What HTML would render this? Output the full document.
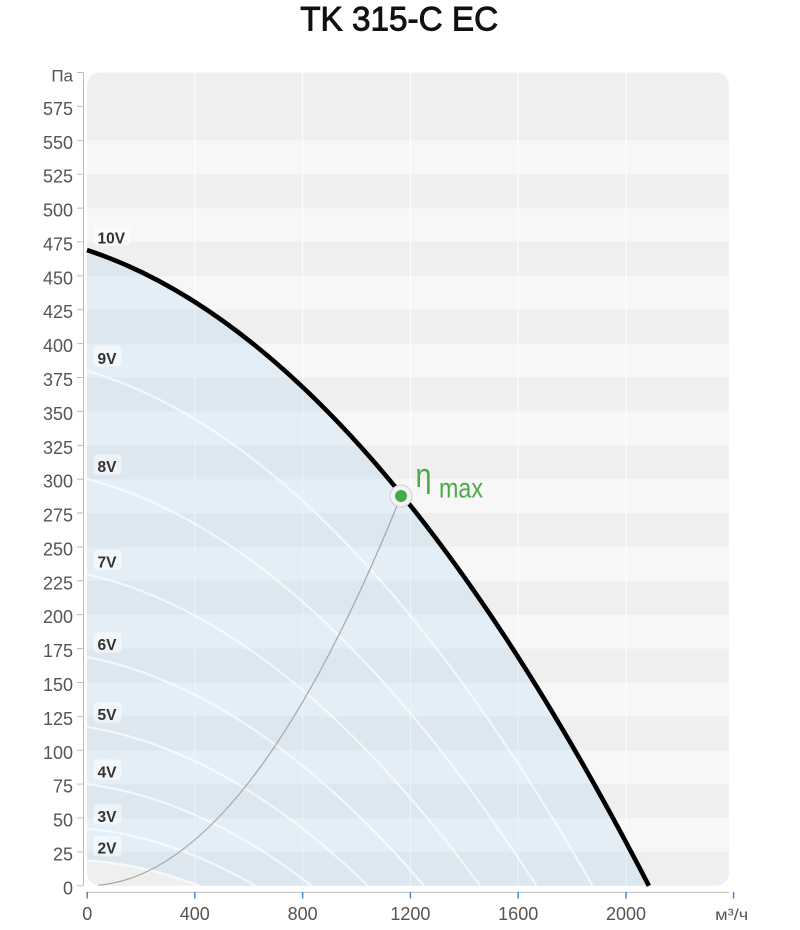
<!DOCTYPE html>
<html>
<head>
<meta charset="utf-8">
<style>
html,body{margin:0;padding:0;background:#fff;}
svg{display:block;}
</style>
</head>
<body>
<svg width="800" height="930" viewBox="0 0 800 930" xmlns="http://www.w3.org/2000/svg">
  <!-- Title -->
  <text x="399.2" y="30.5" font-family="Liberation Sans, sans-serif" font-size="34" fill="#111" stroke="#111" stroke-width="0.9" text-anchor="middle" textLength="198" lengthAdjust="spacingAndGlyphs">TK 315-C EC</text>

  <!-- Plot background -->
  <rect x="87" y="72.5" width="642" height="813.3" rx="13" ry="13" fill="#efefef"/>
  <!-- light stripes -->
  <g fill="#f7f7f7">
    <rect x="87" y="818.0" width="642" height="33.9"/>
    <rect x="87" y="750.3" width="642" height="33.8"/>
    <rect x="87" y="682.5" width="642" height="33.9"/>
    <rect x="87" y="614.7" width="642" height="33.9"/>
    <rect x="87" y="546.9" width="642" height="33.9"/>
    <rect x="87" y="479.2" width="642" height="33.8"/>
    <rect x="87" y="411.4" width="642" height="33.9"/>
    <rect x="87" y="343.6" width="642" height="33.9"/>
    <rect x="87" y="275.8" width="642" height="33.9"/>
    <rect x="87" y="208.1" width="642" height="33.8"/>
    <rect x="87" y="140.3" width="642" height="33.9"/>
  </g>
  <!-- vertical gridlines -->
  <g stroke="#ffffff" stroke-width="1">
    <line x1="194.8" y1="72.5" x2="194.8" y2="885.8"/>
    <line x1="302.6" y1="72.5" x2="302.6" y2="885.8"/>
    <line x1="410.4" y1="72.5" x2="410.4" y2="885.8"/>
    <line x1="518.2" y1="72.5" x2="518.2" y2="885.8"/>
    <line x1="626.0" y1="72.5" x2="626.0" y2="885.8"/>
  </g>

  <!-- Blue working area -->
  <path d="M87,250.1 Q367.96,341.8 648.9,885.8 L199.4,885.8 Q143.2,864.0 87,860.4 Z" fill="rgb(87,175,239)" fill-opacity="0.125"/>

  <!-- lower voltage curves -->
  <g fill="none" stroke="#ffffff" stroke-opacity="0.65" stroke-width="2.2">
    <path d="M87,370.8 Q339.9,445.2 592.7,885.8"/>
    <path d="M87,478.9 Q311.8,537.7 536.5,885.8"/>
    <path d="M87,574.3 Q283.7,619.3 480.3,885.8"/>
    <path d="M87,656.9 Q255.6,690.0 424.1,885.8"/>
    <path d="M87,726.9 Q227.5,749.8 368.0,885.8"/>
    <path d="M87,784.1 Q199.4,798.8 311.8,885.8"/>
    <path d="M87,828.6 Q171.3,836.8 255.6,885.8"/>
    <path d="M87,860.4 Q143.2,864.0 199.4,885.8"/>
  </g>

  <!-- eta max curve -->
  <path d="M98.05,885.3 Q249.5,872.1 401,496" fill="none" stroke="#a6a6a6" stroke-width="1.2"/>

  <!-- 10V curve -->
  <path d="M87,250.1 Q367.96,341.8 648.9,885.8" fill="none" stroke="#000" stroke-width="4.6"/>

  <!-- Voltage labels -->
  <g fill="#ffffff" fill-opacity="0.5">
    <rect x="93.5" y="225.3" width="37" height="20.5" rx="4"/>
    <rect x="93.5" y="346.0" width="28" height="20.5" rx="4"/>
    <rect x="93.5" y="454.2" width="28" height="20.5" rx="4"/>
    <rect x="93.5" y="549.6" width="28" height="20.5" rx="4"/>
    <rect x="93.5" y="632.2" width="28" height="20.5" rx="4"/>
    <rect x="93.5" y="702.2" width="28" height="20.5" rx="4"/>
    <rect x="93.5" y="759.4" width="28" height="20.5" rx="4"/>
    <rect x="93.5" y="803.9" width="28" height="20.5" rx="4"/>
    <rect x="93.5" y="835.7" width="28" height="20.5" rx="4"/>
  </g>
  <g font-family="Liberation Sans, sans-serif" font-size="15.5" font-weight="bold" fill="#333">
    <text x="97.5" y="243.4">10V</text>
    <text x="97.5" y="364.1">9V</text>
    <text x="97.5" y="472.2">8V</text>
    <text x="97.5" y="567.6">7V</text>
    <text x="97.5" y="650.2">6V</text>
    <text x="97.5" y="720.2">5V</text>
    <text x="97.5" y="777.4">4V</text>
    <text x="97.5" y="821.9">3V</text>
    <text x="97.5" y="853.7">2V</text>
  </g>

  <!-- eta max point -->
  <circle cx="401" cy="496" r="11" fill="#f3f3f3" stroke="#cfcfcf" stroke-width="1"/>
  <circle cx="401" cy="496" r="6" fill="#46a947"/>
  <text x="415.5" y="487" font-family="Liberation Sans, sans-serif" font-size="34" fill="#4aab45" textLength="16" lengthAdjust="spacingAndGlyphs">η</text>
  <text x="439" y="497.3" font-family="Liberation Sans, sans-serif" font-size="28" fill="#4aab45" textLength="44" lengthAdjust="spacingAndGlyphs">max</text>

  <!-- Y axis -->
  <line x1="83.5" y1="72.5" x2="83.5" y2="886" stroke="#bbbbbb" stroke-width="1"/>
  <g stroke="#bbbbbb" stroke-width="1">
    <line x1="77" y1="72.5" x2="83.5" y2="72.5"/>
    <line x1="77" y1="106.4" x2="83.5" y2="106.4"/>
    <line x1="77" y1="140.3" x2="83.5" y2="140.3"/>
    <line x1="77" y1="174.2" x2="83.5" y2="174.2"/>
    <line x1="77" y1="208.1" x2="83.5" y2="208.1"/>
    <line x1="77" y1="241.9" x2="83.5" y2="241.9"/>
    <line x1="77" y1="275.8" x2="83.5" y2="275.8"/>
    <line x1="77" y1="309.7" x2="83.5" y2="309.7"/>
    <line x1="77" y1="343.6" x2="83.5" y2="343.6"/>
    <line x1="77" y1="377.5" x2="83.5" y2="377.5"/>
    <line x1="77" y1="411.4" x2="83.5" y2="411.4"/>
    <line x1="77" y1="445.3" x2="83.5" y2="445.3"/>
    <line x1="77" y1="479.2" x2="83.5" y2="479.2"/>
    <line x1="77" y1="513.0" x2="83.5" y2="513.0"/>
    <line x1="77" y1="546.9" x2="83.5" y2="546.9"/>
    <line x1="77" y1="580.8" x2="83.5" y2="580.8"/>
    <line x1="77" y1="614.7" x2="83.5" y2="614.7"/>
    <line x1="77" y1="648.6" x2="83.5" y2="648.6"/>
    <line x1="77" y1="682.5" x2="83.5" y2="682.5"/>
    <line x1="77" y1="716.4" x2="83.5" y2="716.4"/>
    <line x1="77" y1="750.3" x2="83.5" y2="750.3"/>
    <line x1="77" y1="784.1" x2="83.5" y2="784.1"/>
    <line x1="77" y1="818.0" x2="83.5" y2="818.0"/>
    <line x1="77" y1="851.9" x2="83.5" y2="851.9"/>
    <line x1="77" y1="885.8" x2="83.5" y2="885.8"/>
  </g>
  <g font-family="Liberation Sans, sans-serif" font-size="18" fill="#555" text-anchor="end">
    <text x="73" y="81.5" font-size="17">Па</text>
    <text x="73" y="114.9">575</text>
    <text x="73" y="148.8">550</text>
    <text x="73" y="182.7">525</text>
    <text x="73" y="216.6">500</text>
    <text x="73" y="250.4">475</text>
    <text x="73" y="284.3">450</text>
    <text x="73" y="318.2">425</text>
    <text x="73" y="352.1">400</text>
    <text x="73" y="386.0">375</text>
    <text x="73" y="419.9">350</text>
    <text x="73" y="453.8">325</text>
    <text x="73" y="487.7">300</text>
    <text x="73" y="521.5">275</text>
    <text x="73" y="555.4">250</text>
    <text x="73" y="589.3">225</text>
    <text x="73" y="623.2">200</text>
    <text x="73" y="657.1">175</text>
    <text x="73" y="691.0">150</text>
    <text x="73" y="724.9">125</text>
    <text x="73" y="758.8">100</text>
    <text x="73" y="792.6">75</text>
    <text x="73" y="826.5">50</text>
    <text x="73" y="860.4">25</text>
    <text x="73" y="894.3">0</text>
  </g>

  <!-- X axis -->
  <line x1="86" y1="892.3" x2="729" y2="892.3" stroke="#bbbbbb" stroke-width="1"/>
  <g stroke="#4a90d2" stroke-width="1.6">
    <line x1="87.2" y1="892" x2="87.2" y2="898.5"/>
    <line x1="194.8" y1="892" x2="194.8" y2="898.5"/>
    <line x1="302.6" y1="892" x2="302.6" y2="898.5"/>
    <line x1="410.4" y1="892" x2="410.4" y2="898.5"/>
    <line x1="518.2" y1="892" x2="518.2" y2="898.5"/>
    <line x1="626.0" y1="892" x2="626.0" y2="898.5"/>
    <line x1="733.6" y1="892" x2="733.6" y2="898.5"/>
  </g>
  <g font-family="Liberation Sans, sans-serif" font-size="18" fill="#555" text-anchor="middle">
    <text x="87.2" y="920">0</text>
    <text x="194.8" y="920">400</text>
    <text x="302.6" y="920">800</text>
    <text x="410.4" y="920">1200</text>
    <text x="518.2" y="920">1600</text>
    <text x="626.0" y="920">2000</text>
    <text x="731.7" y="920" font-size="16" textLength="33" lengthAdjust="spacingAndGlyphs">м³/ч</text>
  </g>
</svg>
</body>
</html>
